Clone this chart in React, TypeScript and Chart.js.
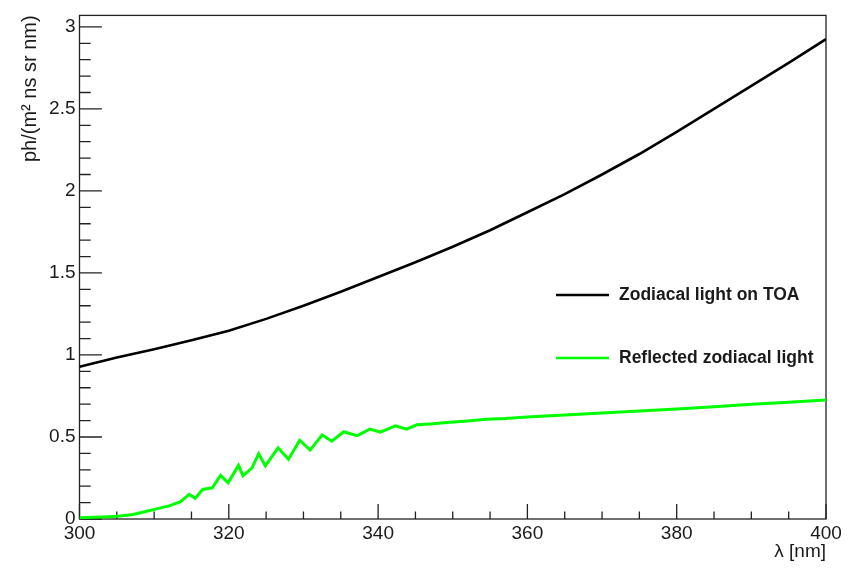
import React, { useEffect, useRef } from "react";
import { Chart, registerables } from "chart.js";

Chart.register(...registerables);

// Zodiacal light at top of atmosphere (wavelength in nm, flux)
const toaNm = [300, 305, 310, 315, 320, 325, 330, 335, 340, 345, 350, 355, 360, 365, 370, 375, 380, 385, 390, 395, 400];
const toaFlux = [0.928, 0.985, 1.035, 1.09, 1.148, 1.22, 1.3, 1.385, 1.475, 1.565, 1.66, 1.76, 1.87, 1.98, 2.1, 2.225, 2.36, 2.5, 2.64, 2.78, 2.925];

// Zodiacal light reflected back (ozone absorption bands below ~345 nm)
const reflNm = [
  300, 302, 304, 305.4, 307.2, 309, 310.3, 312, 313.5, 314.7, 315.5, 316.5, 317.8, 318.9, 319.9,
  321.3, 321.9, 323.1, 324.0, 324.9, 326.6, 328.0, 329.5, 330.9, 332.5, 333.8, 335.4, 337.2,
  338.9, 340.3, 342.3, 343.8, 345.2, 347.4, 349.6, 352, 354.5, 357, 360, 365, 370, 375, 380,
  385, 390, 395, 400,
];
const reflFlux = [
  0.008, 0.01, 0.014, 0.018, 0.028, 0.047, 0.062, 0.08, 0.104, 0.15, 0.126, 0.18, 0.19, 0.266, 0.221,
  0.327, 0.264, 0.31, 0.398, 0.324, 0.434, 0.364, 0.48, 0.42, 0.512, 0.474, 0.532, 0.508,
  0.548, 0.53, 0.568, 0.548, 0.574, 0.58, 0.59, 0.598, 0.608, 0.612, 0.622, 0.634, 0.646, 0.658, 0.67,
  0.684, 0.7, 0.712, 0.726,
];

const seriesLabels = ["Zodiacal light on TOA", "Reflected zodiacal light"];
const seriesColors = ["#000000", "#00ff00"];

const xTicks = [300, 320, 340, 360, 380, 400];
const yTicks = [0, 0.5, 1, 1.5, 2, 2.5, 3];
const xMinorStep = 5;
const yMinorStep = 0.1;

const xTitle = "λ [nm]";
const yTitle = "ph/(m² ns sr nm)";

const FONT = "'Liberation Sans', Arial, Helvetica, sans-serif";
const INK = "#1a1a1a";

// Frame and inward-pointing ticks in the ROOT style
const framePlugin = {
  id: "frameTicks",
  beforeDatasetsDraw(chart: any) {
    const { ctx, chartArea: a, scales } = chart;
    const xs = scales.x;
    const ys = scales.y;
    ctx.save();
    ctx.strokeStyle = "#222";
    ctx.lineWidth = 1.3;
    ctx.strokeRect(a.left, a.top, a.right - a.left, a.bottom - a.top);

    const xMajorLen = 0.03 * (a.bottom - a.top);
    const yMajorLen = 0.03 * (a.right - a.left);
    ctx.beginPath();
    for (let v = xs.min; v <= xs.max + 1e-9; v += xMinorStep) {
      const px = xs.getPixelForValue(v);
      const major = xTicks.some((t) => Math.abs(t - v) < 1e-6);
      const len = major ? xMajorLen : xMajorLen / 2;
      ctx.moveTo(px, a.bottom);
      ctx.lineTo(px, a.bottom - len);
    }
    for (let i = 0; i * yMinorStep <= ys.max + 1e-9; i++) {
      const v = i * yMinorStep;
      const py = ys.getPixelForValue(v);
      const major = yTicks.some((t) => Math.abs(t - v) < 1e-6);
      const len = major ? yMajorLen : yMajorLen / 2;
      ctx.moveTo(a.left, py);
      ctx.lineTo(a.left + len, py);
    }
    ctx.stroke();
    ctx.restore();
  },
};

// Legend placed inside the frame
const legendPlugin = {
  id: "insideLegend",
  afterDraw(chart: any) {
    const { ctx } = chart;
    const rows = [295, 358];
    ctx.save();
    chart.data.datasets.forEach((ds: any, i: number) => {
      const y = rows[i];
      ctx.strokeStyle = ds.borderColor;
      ctx.lineWidth = 2.5;
      ctx.beginPath();
      ctx.moveTo(556, y);
      ctx.lineTo(609, y);
      ctx.stroke();
      ctx.fillStyle = INK;
      ctx.font = `bold 17.5px ${FONT}`;
      ctx.textBaseline = "middle";
      ctx.textAlign = "left";
      ctx.fillText(ds.label, 619, y);
    });
    ctx.restore();
  },
};

export default function App() {
  const canvasRef = useRef<HTMLCanvasElement | null>(null);

  useEffect(() => {
    if (!canvasRef.current) return;
    const chart = new Chart(canvasRef.current, {
      type: "line",
      data: {
        datasets: [
          {
            label: seriesLabels[0],
            data: toaNm.map((x, i) => ({ x, y: toaFlux[i] })),
            borderColor: seriesColors[0],
            borderWidth: 2.6,
            pointRadius: 0,
            tension: 0,
          },
          {
            label: seriesLabels[1],
            data: reflNm.map((x, i) => ({ x, y: reflFlux[i] })),
            borderColor: seriesColors[1],
            borderWidth: 3,
            pointRadius: 0,
            tension: 0,
          },
        ],
      },
      options: {
        animation: false,
        responsive: false,
        devicePixelRatio: 1,
        layout: { padding: { top: 7, right: 24, left: 0, bottom: 0 } },
        plugins: { legend: { display: false }, tooltip: { enabled: false } },
        scales: {
          x: {
            type: "linear",
            min: 300,
            max: 400,
            afterBuildTicks: (s: any) => {
              s.ticks = xTicks.map((v) => ({ value: v }));
            },
            afterFit: (s: any) => {
              s.height = 49;
            },
            grid: { display: false, drawTicks: false },
            border: { display: false },
            ticks: {
              autoSkip: false,
              maxRotation: 0,
              padding: 3,
              color: INK,
              font: { family: FONT, size: 19 },
              callback: (v: any) => String(v),
            },
            title: {
              display: true,
              text: xTitle,
              align: "end",
              color: INK,
              font: { family: FONT, size: 19 },
              padding: { top: 0, bottom: 5 },
            },
          },
          y: {
            type: "linear",
            min: 0,
            max: 3.07,
            afterBuildTicks: (s: any) => {
              s.ticks = yTicks.map((v) => ({ value: v }));
            },
            afterFit: (s: any) => {
              s.width = 79.5;
            },
            grid: { display: false, drawTicks: false },
            border: { display: false },
            ticks: {
              padding: 4,
              color: INK,
              font: { family: FONT, size: 19 },
              callback: (v: any) => String(v),
            },
            title: {
              display: true,
              text: yTitle,
              align: "end",
              color: INK,
              font: { family: FONT, size: 20 },
              padding: { top: 18, bottom: 0 },
            },
          },
        },
      },
      plugins: [framePlugin, legendPlugin],
    } as any);
    return () => chart.destroy();
  }, []);

  return (
    <div style={{ position: "fixed", left: 0, top: 0, width: 850, height: 568, background: "#fff" }}>
      <canvas ref={canvasRef} width={850} height={568} />
    </div>
  );
}
